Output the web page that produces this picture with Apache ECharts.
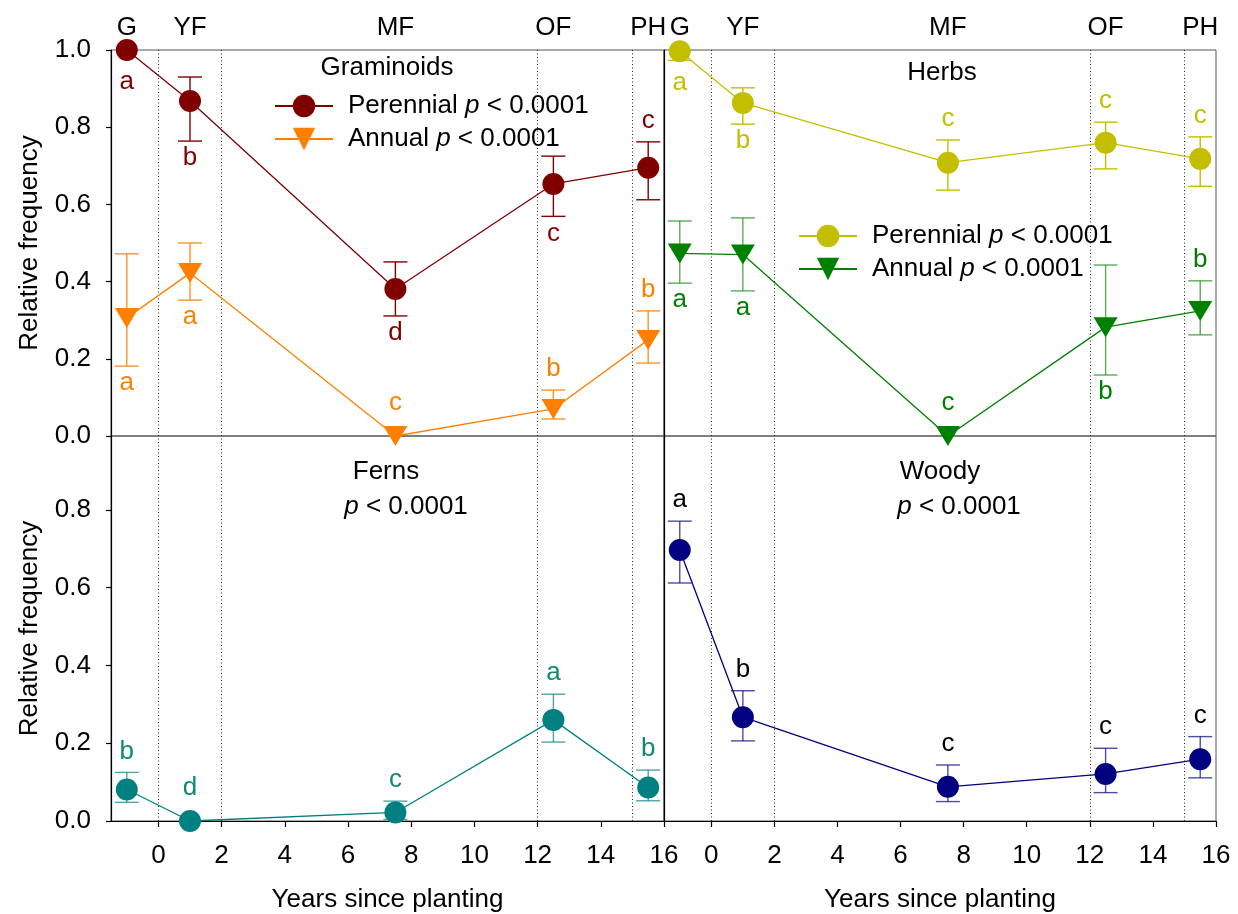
<!DOCTYPE html>
<html><head><meta charset="utf-8">
<script src="https://cdn.jsdelivr.net/npm/echarts@6/dist/echarts.min.js"></script>
<style>html,body{margin:0;padding:0;background:#fff}#c{width:1238px;height:914px}</style>
</head><body><div id="c"></div>
<script>
// ---------------- data ----------------
const xYears = [-1, 1, 7.5, 12.5, 15.5];
const stageLabels = ['G', 'YF', 'MF', 'OF', 'PH'];
const stageBoundaries = [0, 2, 12, 15];
const xTickValues = [0, 2, 4, 6, 8, 10, 12, 14, 16];
const yTickValuesTop = [0, 0.2, 0.4, 0.6, 0.8, 1.0];
const yTickValuesBottom = [0, 0.2, 0.4, 0.6, 0.8];
const panelTitles = ['Graminoids', 'Herbs', 'Ferns', 'Woody'];
const xAxisTitle = 'Years since planting';
const yAxisTitle = 'Relative frequency';

const graminoidPerennial = [1.0, 0.868, 0.381, 0.653, 0.695];
const graminoidPerennialUpper = [null, 0.930, 0.451, 0.725, 0.762];
const graminoidPerennialLower = [null, 0.764, 0.311, 0.569, 0.612];
const graminoidPerennialLetters = ['a', 'b', 'd', 'c', 'c'];
const graminoidPerennialSides = ['below', 'below', 'below', 'below', 'above'];

const graminoidAnnual = [0.306, 0.422, 0.0, 0.070, 0.249];
const graminoidAnnualUpper = [0.472, 0.500, null, 0.119, 0.324];
const graminoidAnnualLower = [0.181, 0.352, null, 0.044, 0.189];
const graminoidAnnualLetters = ['a', 'a', 'c', 'b', 'b'];
const graminoidAnnualSides = ['below', 'below', 'above', 'above', 'above'];

const herbPerennial = [0.997, 0.863, 0.708, 0.760, 0.718];
const herbPerennialUpper = [null, 0.902, 0.767, 0.813, 0.775];
const herbPerennialLower = [0.973, 0.808, 0.637, 0.692, 0.647];
const herbPerennialLetters = ['a', 'b', 'c', 'c', 'c'];
const herbPerennialSides = ['below', 'below', 'above', 'above', 'above'];

const herbAnnual = [0.473, 0.470, 0.0, 0.282, 0.324];
const herbAnnualUpper = [0.557, 0.565, null, 0.443, 0.402];
const herbAnnualLower = [0.396, 0.376, null, 0.158, 0.262];
const herbAnnualLetters = ['a', 'a', 'c', 'b', 'b'];
const herbAnnualSides = ['below', 'below', 'above', 'below', 'above'];

const ferns = [0.081, 0.0, 0.022, 0.260, 0.086];
const fernsUpper = [0.125, null, 0.051, 0.326, 0.131];
const fernsLower = [0.048, null, 0.004, 0.203, 0.052];
const fernsLetters = ['b', 'd', 'c', 'a', 'b'];
const fernsSides = ['above', 'above', 'above', 'above', 'above'];

const woody = [0.697, 0.267, 0.088, 0.121, 0.159];
const woodyUpper = [0.771, 0.335, 0.144, 0.187, 0.217];
const woodyLower = [0.612, 0.206, 0.050, 0.073, 0.111];
const woodyLetters = ['a', 'b', 'c', 'c', 'c'];
const woodySides = ['above', 'above', 'above', 'above', 'above'];

// ---------------- chart ----------------
const FONT = "'Liberation Sans', Arial, Helvetica, sans-serif";
const FS = 26;
const TRI_DOWN = 'path://M0,0 L12,0 L6,10 Z';

const panels = [
  { left: 111, top: 50, width: 553, height: 386, yMax: 1.0, yTicks: yTickValuesTop, yLabels: true, xLabels: false },
  { left: 664, top: 50, width: 552, height: 386, yMax: 1.0, yTicks: yTickValuesTop, yLabels: false, xLabels: false },
  { left: 111, top: 436, width: 553, height: 385, yMax: 0.99, yTicks: yTickValuesBottom, yLabels: true, xLabels: true },
  { left: 664, top: 436, width: 552, height: 385, yMax: 0.99, yTicks: yTickValuesBottom, yLabels: false, xLabels: true }
];

const grids = panels.map(p => ({ left: p.left, top: p.top, width: p.width, height: p.height,
  show: true, borderColor: '#555', borderWidth: 1, backgroundColor: 'transparent' }));

const xAxes = [];
const yAxes = [];
panels.forEach((p, k) => {
  xAxes.push({
    type: 'value', gridIndex: k, min: -1.5, max: 16, position: 'bottom',
    splitLine: { show: false },
    axisLine: { show: p.xLabels, onZero: false, lineStyle: { color: '#000', width: 1.2 } },
    axisTick: { show: p.xLabels, customValues: xTickValues, length: 6, lineStyle: { color: '#000', width: 1.2 } },
    axisLabel: { show: p.xLabels, customValues: xTickValues, color: '#000', fontSize: FS, fontFamily: FONT, margin: 22 },
    name: p.xLabels ? xAxisTitle : '', nameLocation: 'middle', nameGap: 66,
    nameTextStyle: { color: '#000', fontSize: FS, fontFamily: FONT }
  });
  yAxes.push({
    type: 'value', gridIndex: k, min: 0, max: p.yMax,
    splitLine: { show: false },
    axisLine: { show: true, onZero: false, lineStyle: { color: '#000', width: 1.2 } },
    axisTick: { show: p.yLabels, customValues: p.yTicks, length: 5, lineStyle: { color: '#000', width: 1.2 } },
    axisLabel: { show: p.yLabels, customValues: p.yTicks, color: '#000', fontSize: FS, fontFamily: FONT, margin: 20,
      formatter: v => Number(v).toFixed(1) },
    name: p.yLabels ? yAxisTitle : '', nameLocation: 'middle', nameGap: 68,
    nameTextStyle: { color: '#000', fontSize: FS, fontFamily: FONT }
  });
});
// stage labels on top of the two upper panels
[0, 1].forEach(k => {
  xAxes.push({
    type: 'value', gridIndex: k, min: -1.5, max: 16, position: 'top',
    splitLine: { show: false }, axisLine: { show: false }, axisTick: { show: false },
    axisLabel: { show: true, customValues: xYears, color: '#000', fontSize: FS, fontFamily: FONT, margin: 9,
      formatter: v => stageLabels[xYears.indexOf(Number(v))] || '' }
  });
});

const series = [];
function addGroup(panel, name, values, lower, upper, letters, sides, color, symbol, symbolSize, barColor, letterColor, withMarkLine) {
  const s = {
    type: 'line', name: name, xAxisIndex: panel, yAxisIndex: panel,
    data: xYears.map((x, i) => [x, values[i]]),
    symbol: symbol, symbolSize: symbolSize, showAllSymbol: true,
    itemStyle: { color: color }, lineStyle: { color: color, width: 1.3 },
    z: 5, clip: false
  };
  if (withMarkLine) {
    s.markLine = {
      silent: true, symbol: ['none', 'none'], label: { show: false },
      lineStyle: { color: '#222', width: 1, type: [1, 2.5] },
      data: stageBoundaries.map(b => ({ xAxis: b }))
    };
  }
  series.push(s);
  series.push({
    type: 'custom', name: name + ' err', xAxisIndex: panel, yAxisIndex: panel, z: 3, clip: false,
    data: xYears.map((x, i) => [x, values[i]]),
    encode: { x: 0, y: 1 },
    renderItem: function (params, api) {
      const i = params.dataIndex;
      const x = xYears[i], v = values[i];
      const pv = api.coord([x, v]);
      const lo = lower[i], hi = upper[i];
      const hasLo = lo !== null && lo !== undefined;
      const hasHi = hi !== null && hi !== undefined;
      const st = { stroke: barColor, lineWidth: 1.4, fill: null };
      const ch = [];
      const cap = 12;
      const pl = hasLo ? api.coord([x, lo])[1] : pv[1];
      const ph = hasHi ? api.coord([x, hi])[1] : pv[1];
      if (hasLo || hasHi) {
        ch.push({ type: 'line', shape: { x1: pv[0], y1: pl, x2: pv[0], y2: ph }, style: st });
        if (hasLo) ch.push({ type: 'line', shape: { x1: pv[0] - cap, y1: pl, x2: pv[0] + cap, y2: pl }, style: st });
        if (hasHi) ch.push({ type: 'line', shape: { x1: pv[0] - cap, y1: ph, x2: pv[0] + cap, y2: ph }, style: st });
      }
      let ty;
      if (sides[i] === 'above') {
        ty = Math.min(hasHi ? ph - 21 : Infinity, pv[1] - 33);
      } else {
        ty = Math.max(hasLo ? pl + 17 : -Infinity, pv[1] + 32);
      }
      ch.push({ type: 'text', x: pv[0], y: ty,
        style: { text: letters[i], fill: letterColor, fontSize: FS, fontFamily: FONT, align: 'center', verticalAlign: 'middle' } });
      return { type: 'group', children: ch };
    }
  });
}

addGroup(0, 'gA', graminoidAnnual, graminoidAnnualLower, graminoidAnnualUpper, graminoidAnnualLetters, graminoidAnnualSides,
  '#FF8000', TRI_DOWN, [24, 20], 'rgba(255,128,0,0.85)', '#FF8000', true);
addGroup(0, 'gP', graminoidPerennial, graminoidPerennialLower, graminoidPerennialUpper, graminoidPerennialLetters, graminoidPerennialSides,
  '#800000', 'circle', 22, '#800000', '#800000', false);
addGroup(1, 'hA', herbAnnual, herbAnnualLower, herbAnnualUpper, herbAnnualLetters, herbAnnualSides,
  '#008000', TRI_DOWN, [24, 20], 'rgba(0,128,0,0.65)', '#008000', true);
addGroup(1, 'hP', herbPerennial, herbPerennialLower, herbPerennialUpper, herbPerennialLetters, herbPerennialSides,
  '#C4BE00', 'circle', 22, '#C4BE00', '#C4BE00', false);
addGroup(2, 'ferns', ferns, fernsLower, fernsUpper, fernsLetters, fernsSides,
  '#008080', 'circle', 22, 'rgba(0,128,128,0.7)', '#0E8A72', true);
addGroup(3, 'woody', woody, woodyLower, woodyUpper, woodyLetters, woodySides,
  '#000080', 'circle', 22, 'rgba(0,0,128,0.7)', '#000', true);

const legendNames = {
  gP: '{n|Perennial }{i|p}{n| < 0.0001}',
  gA: '{n|Annual }{i|p}{n| < 0.0001}',
  hP: '{n|Perennial }{i|p}{n| < 0.0001}',
  hA: '{n|Annual }{i|p}{n| < 0.0001}'
};
const legendText = {
  color: '#000', fontSize: FS, fontFamily: FONT, padding: [0, 0, 0, 10],
  rich: { n: { fontSize: FS, fontFamily: FONT, color: '#000' }, i: { fontSize: FS, fontFamily: FONT, color: '#000', fontStyle: 'italic' } }
};
const legends = [
  { data: ['gP', 'gA'], left: 269, top: 88 },
  { data: ['hP', 'hA'], left: 793, top: 218 }
].map(l => Object.assign({
  orient: 'vertical', itemWidth: 58, itemHeight: 28, itemGap: 7, selectedMode: false,
  formatter: n => legendNames[n], textStyle: legendText
}, l));

function titleText(x, y, text) {
  return { type: 'text', x: x, y: y, style: { text: text, fill: '#000', fontSize: FS, fontFamily: FONT, align: 'center', verticalAlign: 'middle' } };
}
function pText(x, y) {
  return { type: 'text', x: x, y: y, style: {
    text: '{i|p} < 0.0001', fill: '#000', fontSize: FS, fontFamily: FONT, align: 'center', verticalAlign: 'middle',
    rich: { i: { fontStyle: 'italic', fontSize: FS, fontFamily: FONT, fill: '#000' } } } };
}

const chart = echarts.init(document.getElementById('c'), null, { renderer: 'canvas' });
chart.setOption({
  animation: false,
  backgroundColor: '#fff',
  grid: grids,
  xAxis: xAxes,
  yAxis: yAxes,
  legend: legends,
  series: series,
  graphic: [
    titleText(387, 68, panelTitles[0]),
    titleText(942, 73, panelTitles[1]),
    titleText(386, 472, panelTitles[2]),
    pText(406, 507),
    titleText(940, 472, panelTitles[3]),
    pText(959, 507)
  ]
});
</script></body></html>
